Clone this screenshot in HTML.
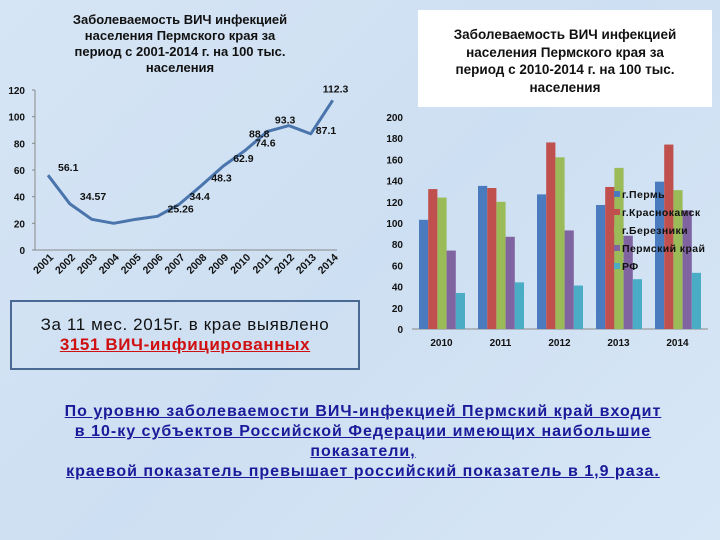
<!DOCTYPE html>
<html><head><meta charset="utf-8"><style>
body{margin:0;width:720px;height:540px;overflow:hidden;background:#d3e3f4;font-family:"Liberation Sans",sans-serif;}
#root{position:relative;width:720px;height:540px;background:linear-gradient(135deg,#d6e5f5,#cddff2 50%,#d8e7f6);}
.t{position:absolute;text-align:center;font-weight:bold;color:#111;}
</style></head><body>
<div id="root">
<div class="t" style="left:50px;top:12px;width:260px;font-size:13px;line-height:16px;">Заболеваемость ВИЧ инфекцией<br>населения Пермского края за<br>период с 2001-2014 г. на 100 тыс.<br>населения</div>
<div style="position:absolute;left:418px;top:10px;width:294px;height:97px;background:#fff;"></div>
<div class="t" style="left:418px;top:26px;width:294px;font-size:13.5px;line-height:17.5px;">Заболеваемость ВИЧ инфекцией<br>населения Пермского края за<br>период с 2010-2014 г. на 100 тыс.<br>населения</div>
<svg id="chart" width="720" height="540" style="position:absolute;left:0;top:0"></svg>
<div style="position:absolute;left:10px;top:300px;width:350px;height:70px;border:2px solid #4a6a94;box-sizing:border-box;"></div>
<div class="t" style="left:10px;top:315px;width:350px;font-size:17px;letter-spacing:0.6px;line-height:20px;font-weight:normal;">За 11 мес. 2015г. в крае выявлено<br><span style="color:#d01010;font-weight:bold;text-decoration:underline;">3151 ВИЧ-инфицированных</span></div>
<div class="t" style="left:0px;top:402px;width:726px;font-size:16px;letter-spacing:1px;line-height:20px;color:#1a1a9a;text-decoration:underline;">По уровню заболеваемости ВИЧ-инфекцией Пермский край входит<br>в 10-ку субъектов Российской Федерации имеющих наибольшие<br>показатели,<br>краевой показатель превышает российский показатель в 1,9 раза.</div>
</div>
<script>
const years=['2001','2002','2003','2004','2005','2006','2007','2008','2009','2010','2011','2012','2013','2014'];
const rates=[56.1,34.57,23,20,23,25.26,34.4,48.3,62.9,74.6,88.8,93.3,87.1,112.3];
const rateLabels=['56.1','34.57','','','','25.26','34.4','48.3','62.9','74.6','88.8','93.3','87.1','112.3'];
const lineTicks=[0,20,40,60,80,100,120];
const barYears=['2010','2011','2012','2013','2014'];
const seriesNames=['г.Пермь','г.Краснокамск','г.Березники','Пермский край','РФ'];
const perm=[103,135,127,117,139];
const krasnokamsk=[132,133,176,134,174];
const berezniki=[124,120,162,152,131];
const kray=[74,87,93,88,112];
const rf=[34,44,41,47,53];
const barTicks=[0,20,40,60,80,100,120,140,160,180,200];
const svg=document.getElementById('chart');
const NS='http://www.w3.org/2000/svg';
function mk(tag,a,txt){const e=document.createElementNS(NS,tag);for(const k in a)e.setAttribute(k,a[k]);if(txt!==undefined)e.textContent=txt;svg.appendChild(e);return e;}
const lx=i=>48+i*21.9, ly=v=>250-v*160/120;
let e=mk('line',{x1:35,y1:90,x2:35,y2:250,stroke:'#888'});


e=mk('line',{x1:35,y1:250,x2:337,y2:250,stroke:'#888'});


lineTicks.forEach(t=>{e=mk('text',{x:25,y:ly(t)+4,'text-anchor':'end','font-size':10,'font-weight':'bold',fill:'#111'},t);


mk('line',{x1:32,y1:ly(t),x2:35,y2:ly(t),stroke:'#888'});});
years.forEach((y,i)=>{e=mk('text',{x:lx(i)+6,y:258,'text-anchor':'end','font-size':10.5,'font-weight':'bold',fill:'#111',transform:`rotate(-45 ${lx(i)+6} 258)`},y);

});
e=mk('polyline',{points:rates.map((v,i)=>lx(i)+','+ly(v)).join(' '),fill:'none',stroke:'#4a74ac','stroke-width':3,'stroke-linejoin':'round'});


rates.forEach((v,i)=>{if(!rateLabels[i])return;let dx=10,dy=-4;if(i==13){dx=-10;dy=-8;}if(i==12){dx=5;dy=0;}if(i==11){dx=-14;dy=-2;}if(i==10){dx=-18;dy=6;}
e=mk('text',{x:lx(i)+dx,y:ly(v)+dy,'font-size':10.5,'font-weight':'bold',fill:'#111'},rateLabels[i]);

});
const by=v=>329-v*212/200, bx=i=>412+i*59;
const series=[perm,krasnokamsk,berezniki,kray,rf];
const colors=['#4a7bbf','#c0504d','#9bbb59','#8064a2','#4bacc6'];
barTicks.forEach(t=>{e=mk('text',{x:403,y:by(t)+4,'text-anchor':'end','font-size':10,'font-weight':'bold',fill:'#111'},t);

});
e=mk('line',{x1:412,y1:329,x2:708,y2:329,stroke:'#888'});


barYears.forEach((y,i)=>{e=mk('text',{x:bx(i)+29.5,y:346,'text-anchor':'middle','font-size':10,'font-weight':'bold',fill:'#111'},y);


series.forEach((s,j)=>{e=mk('rect',{x:bx(i)+7+j*9.2,y:by(s[i]),width:9.2,height:s[i]*212/200,fill:colors[j]});

});});
seriesNames.forEach((n,j)=>{const yy=198+j*18;mk('rect',{x:614,y:yy-7,width:6,height:6,fill:colors[j]});
e=mk('text',{x:622,y:yy,'font-size':10.5,'font-weight':'bold','letter-spacing':'0.4',fill:'#111'},n);

});
</script>
</body></html>
